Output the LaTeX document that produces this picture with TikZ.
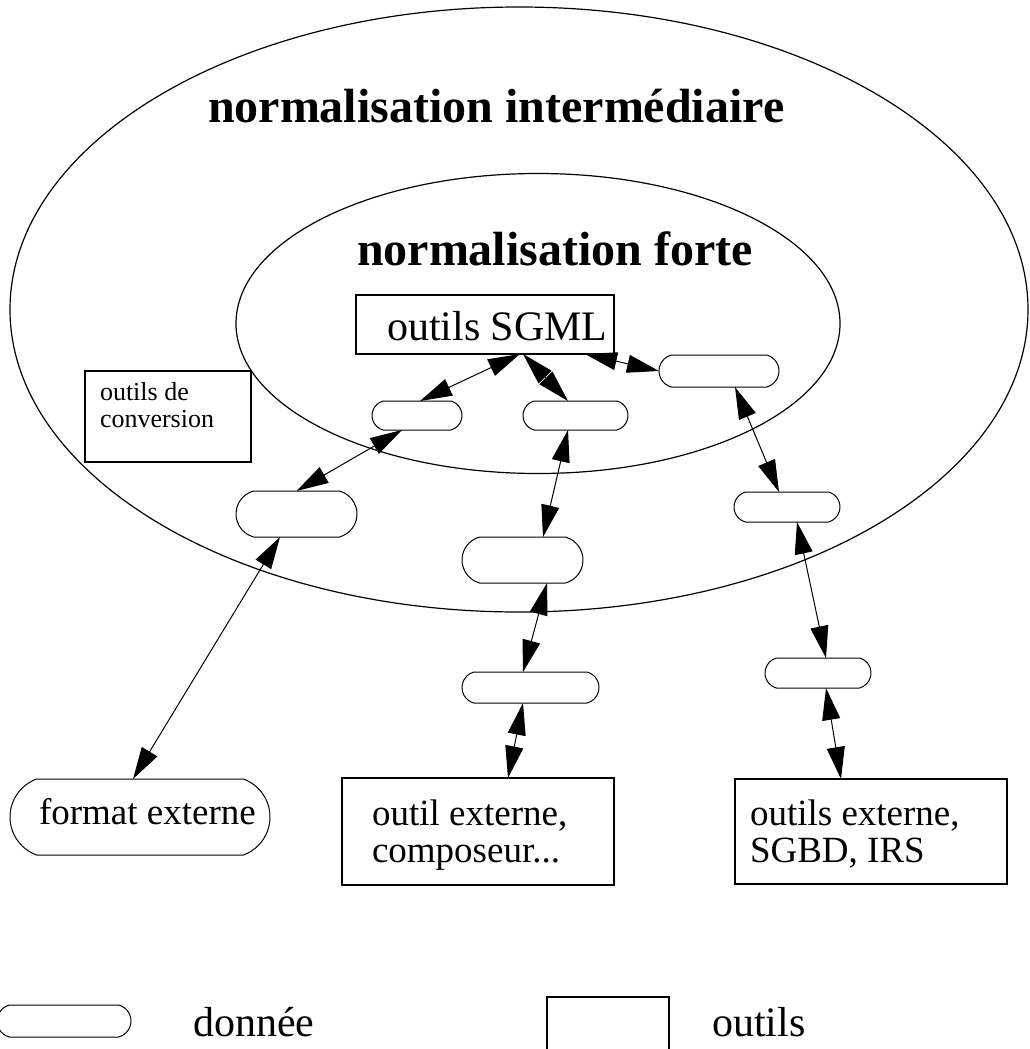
\documentclass[tikz,border=0pt]{standalone}
\usepackage{fontspec}
\setmainfont{Liberation Serif}
\usetikzlibrary{arrows.meta,shapes.misc}

\tikzset{
  zone/.style={line width=1.2pt},
  pill/.style={draw, rounded rectangle, rounded rectangle arc length=150,
    line width=1pt, inner sep=0pt, outer sep=0pt},
  toolbox/.style={draw, rectangle, line width=2pt, inner sep=0pt, outer sep=0pt},
  lbl/.style={anchor=base west, inner sep=0pt, outer sep=0pt},
  big/.style={font=\fontsize{42}{50}\selectfont},
  mid/.style={font=\fontsize{37}{44}\selectfont},
  small/.style={font=\fontsize{26}{30}\selectfont},
  title/.style={font=\fontsize{48}{58}\selectfont\bfseries},
  link/.style={line width=1pt,
    {Triangle[length=32pt,width=18pt]}-{Triangle[length=32pt,width=18pt]}},
}

\begin{document}
\begin{tikzpicture}[x=1pt,y=-1pt]
  \useasboundingbox (0,0) rectangle (1029,1049);
  \clip (0,0) rectangle (1029,1049);

  % nested normalisation zones
  \draw[zone] (519,309.5) ellipse [x radius=509pt, y radius=302.5pt];
  \draw[zone] (538,323.5) ellipse [x radius=302pt, y radius=150pt];

  \node[title,lbl] (tinter) at (208,122) {normalisation intermédiaire};
  \node[title,lbl] (tforte) at (357,265) {normalisation forte};

  % tools
  \node[toolbox, minimum width=258pt, minimum height=59pt] (sgml) at (485,324.5) {};
  \node[big,lbl] (sgmltxt) at (387,340) {outils SGML};

  \node[toolbox, minimum width=166pt, minimum height=91pt] (conv) at (168,416.5) {};
  \node[small,lbl] (conva) at (100,400) {outils de};
  \node[small,lbl] (convb) at (100,427) {conversion};

  \node[toolbox, minimum width=272pt, minimum height=107pt] (oe) at (478,831.5) {};
  \node[mid,lbl] (oea) at (372,825) {outil externe,};
  \node[mid,lbl] (oeb) at (372,862) {composeur...};

  \node[toolbox, minimum width=272pt, minimum height=105pt] (oes) at (871,831.5) {};
  \node[mid,lbl] (oesa) at (750,825) {outils externe,};
  \node[mid,lbl] (oesb) at (750,862) {SGBD, IRS};

  % data
  \node[pill, minimum width=90pt,  minimum height=29pt] (pA) at (417,415.5) {};
  \node[pill, minimum width=105pt, minimum height=29pt] (pB) at (575.5,415.5) {};
  \node[pill, minimum width=120pt, minimum height=32pt] (pC) at (719,371) {};
  \node[pill, minimum width=121pt, minimum height=46pt] (pD) at (296.5,514) {};
  \node[pill, minimum width=121pt, minimum height=46pt] (pE) at (522.5,560) {};
  \node[pill, minimum width=106pt, minimum height=30pt] (pF) at (787,507) {};
  \node[pill, minimum width=106pt, minimum height=30pt] (pG) at (818,673) {};
  \node[pill, minimum width=137pt, minimum height=31pt] (pH) at (530.5,687.5) {};
  \node[pill, rounded rectangle arc length=140, minimum width=260pt, minimum height=76pt] (fmt) at (140,817) {};
  \node[mid,lbl] (fmttxt) at (39,824) {format externe};

  % exchanges
  \draw[link] ([xshift=35pt]sgml.south) -- ([xshift=3pt]pA.north);
  \draw[link] ([xshift=38pt]sgml.south) -- ([xshift=-7.5pt]pB.north);
  \draw[link] ([xshift=-29pt]sgml.south east) -- (pC.west);
  \draw[link] ([xshift=-15pt]pA.south) -- (pD.north);
  \draw[link] ([xshift=-7.5pt]pB.south) -- ([xshift=20.5pt]pE.north);
  \draw[link] ([xshift=16pt]pC.south) -- ([xshift=-8pt]pF.north);
  \draw[link] ([xshift=-16.5pt]pD.south) -- ([xshift=-7pt]fmt.north);
  \draw[link] ([xshift=24.5pt]pE.south) -- ([xshift=-7.5pt]pH.north);
  \draw[link] ([xshift=-7.5pt]pH.south) -- ([xshift=30pt]oe.north);
  \draw[link] ([xshift=10pt]pF.south) -- ([xshift=8pt]pG.north);
  \draw[link] ([xshift=8pt]pG.south) -- ([xshift=-30pt]oes.north);

  % key
  \node[pill, minimum width=134pt, minimum height=32pt] (kpill) at (64,1021) {};
  \node[big,lbl] (kdata) at (193,1036) {donnée};
  \node[toolbox, minimum width=122pt, minimum height=70pt] (kbox) at (608,1032) {};
  \node[big,lbl] (ktool) at (712,1036) {outils};
\end{tikzpicture}
\end{document}
